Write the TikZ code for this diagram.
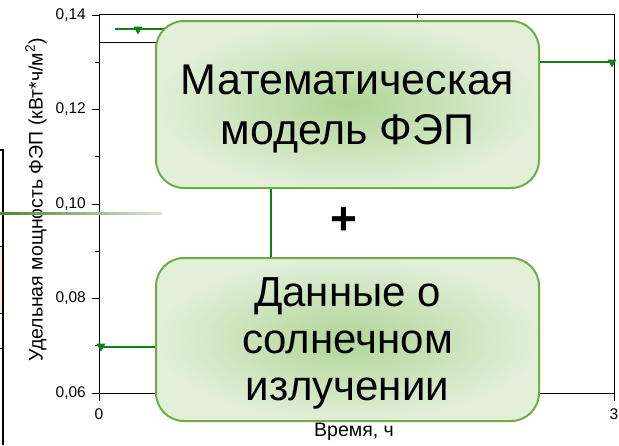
\documentclass[tikz,border=0pt]{standalone}
\usepackage{fontspec}
\setmainfont{Liberation Sans}
\definecolor{datagreen}{RGB}{16,128,24}
\definecolor{olivegreen}{RGB}{84,130,53}
\definecolor{boxgreen}{RGB}{112,173,71}
\definecolor{boxin}{RGB}{176,213,150}
\definecolor{boxout}{RGB}{226,239,217}
\definecolor{beige}{RGB}{250,238,214}
\begin{document}
\begin{tikzpicture}[x=1pt,y=-1pt,
  axisline/.style={line width=1pt, black},
  dataline/.style={line width=2pt, draw=datagreen},
  bigbox/.style={draw=boxgreen, line width=2pt, rounded corners=28pt,
    inner color=boxin, outer color=boxout, anchor=north west,
    minimum width=383pt, align=center, inner sep=0pt,
    font=\fontsize{43}{50}\selectfont},
  ticklbl/.style={font=\fontsize{15.5}{17}\selectfont, inner sep=0pt},
  tri/.pic={\fill[datagreen] (-4.5,-3.5) -- (4.5,-3.5) -- (0,4.5) -- cycle;}
]
\useasboundingbox (0,0) rectangle (619,445);
\fill[white] (0,0) rectangle (619,445);

% left table remnant
\fill[beige] (0,246) rectangle (2.5,313);
\draw[line width=0.8pt] (0,246) -- (3,246) (0,313) -- (3,313) (0,348) -- (3,348);
\draw[line width=1.5pt] (0,150) -- (3,150) -- (3,445);

% axes frame
\draw[axisline] (99,14) -- (614,14) -- (614,393) -- (99,393) -- cycle;
\draw[axisline] (99,42) -- (160,42);
\draw[axisline] (417,14) -- (417,18);
% y ticks
\foreach \yy/\lab in {15/{0,14},109.5/{0,12},204/{0,10},298.5/{0,08},393/{0,06}}{
  \draw[axisline] (92,\yy) -- (99,\yy);
  \node[ticklbl, anchor=east] at (86,\yy) {\lab};
}
\foreach \yy in {62.25,156.75,251.25,345.75}{
  \draw[axisline] (95,\yy) -- (99,\yy);
}
% x ticks
\draw[axisline] (99,393) -- (99,401);
\draw[axisline] (614,393) -- (614,401);
\node[ticklbl] (x0) at (99,414) {0};
\node[ticklbl] (x3) at (614,414) {3};
\node[font=\fontsize{19.5}{21}\selectfont, inner sep=0pt] (xlabel) at (354,432) {Время, ч};
\node[rotate=90, font=\fontsize{19.5}{21}\selectfont, inner sep=0pt] (ylabel) at (36,200)
  {Удельная мощность ФЭП (кВт*ч/м\textsuperscript{2})};

% data lines
\draw[dataline] (115,29) -- (270.5,29);
\draw[dataline] (270.5,29) -- (270.5,347);
\draw[dataline] (270.5,62) -- (614,62);
\draw[dataline] (99,347) -- (270.5,347);
\pic at (138,30) {tri};
\pic at (612,63) {tri};
\pic at (101,347) {tri};

% olive line crossing at left
\shade[left color=olivegreen, right color=olivegreen!20] (0,212) rectangle (162,214.5);

% boxes
\node[bigbox, minimum height=167pt, text depth=-4pt] (model) at (155,20)
  {Математическая\\модель ФЭП};
\node[bigbox, minimum height=163pt, font=\fontsize{42}{47}\selectfont, text depth=-6pt] (data) at (155,257)
  {Данные о\\солнечном\\излучении};
\node[font=\bfseries\fontsize{46}{46}\selectfont, inner sep=0pt] (plus) at (344,221) {+};
\end{tikzpicture}
\end{document}
